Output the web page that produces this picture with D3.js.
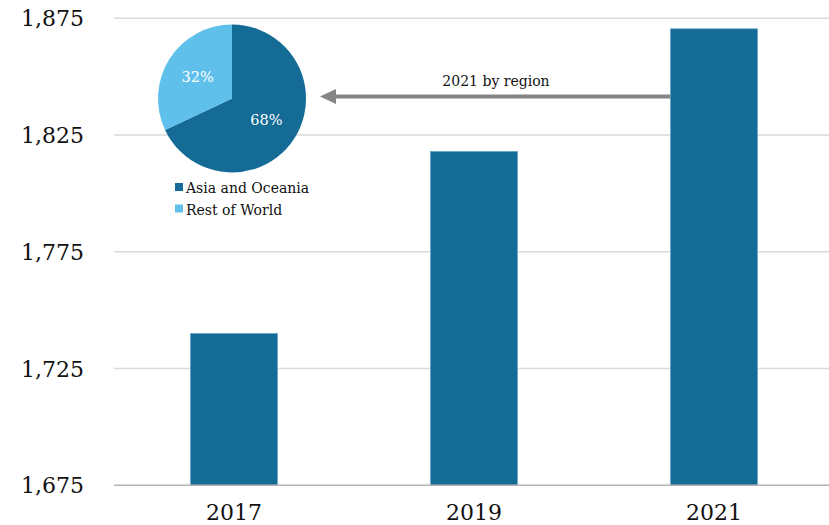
<!DOCTYPE html>
<html>
<head>
<meta charset="utf-8">
<script src="https://cdn.jsdelivr.net/npm/d3@7"></script>
<style>
  body { margin: 0; background: #fff; }
  svg { display: block; font-family: Georgia, "DejaVu Serif", serif; }
</style>
</head>
<body>
<div id="chart"></div>
<script>
'use strict';

// bar data
var years = ['2017', '2019', '2021'];
var values = [1740, 1818, 1870.5];
var yTicks = [1675, 1725, 1775, 1825, 1875];

// pie data (2021 by region)
var regions = ['Asia and Oceania', 'Rest of World'];
var shares = [68, 32];
var arrowLabel = '2021 by region';

var width = 829,
  height = 525,
  dark = '#136b96',
  light = '#5fc0eb';

var svg = d3.select('#chart').append('svg')
  .attr('width', width)
  .attr('height', height);

var x = d3.scaleBand()
  .domain(years)
  .range([114, 834])
  .paddingInner(0.6375)
  .paddingOuter(0.31875);

var y = d3.scaleLinear()
  .domain([1675, 1875])
  .range([485.3, 18.3]);

// gridlines
svg.append('g')
  .selectAll('line')
  .data(yTicks.slice(1))
  .enter().append('line')
  .attr('x1', 114).attr('x2', width)
  .attr('y1', function(d) { return y(d); })
  .attr('y2', function(d) { return y(d); })
  .attr('stroke', '#d9d9d9')
  .attr('stroke-width', 1.5);

// y labels
svg.append('g')
  .selectAll('text')
  .data(yTicks)
  .enter().append('text')
  .attr('x', 84)
  .attr('y', function(d) { return y(d) + 8; })
  .attr('text-anchor', 'end')
  .attr('font-size', 22)
  .attr('fill', '#111')
  .text(function(d) { return d3.format(',')(d); });

// bars
svg.append('g')
  .selectAll('rect')
  .data(values)
  .enter().append('rect')
  .attr('x', function(d, i) { return x(years[i]); })
  .attr('y', function(d) { return y(d); })
  .attr('width', x.bandwidth())
  .attr('height', function(d) { return y(1675) - y(d); })
  .attr('fill', dark)
  .attr('stroke', '#6aa5c4')
  .attr('stroke-width', 0.8);

// baseline
svg.append('line')
  .attr('x1', 114).attr('x2', width)
  .attr('y1', y(1675)).attr('y2', y(1675))
  .attr('stroke', '#b3b3b3')
  .attr('stroke-width', 1.5);

// x labels
svg.append('g')
  .selectAll('text')
  .data(years)
  .enter().append('text')
  .attr('x', function(d) { return x(d) + x.bandwidth() / 2; })
  .attr('y', 520)
  .attr('text-anchor', 'middle')
  .attr('font-size', 22)
  .attr('fill', '#111')
  .text(function(d) { return d; });

// arrow from 2021 bar to pie
var arrowY = 96.5;
svg.append('line')
  .attr('x1', x('2021')).attr('x2', 333)
  .attr('y1', arrowY).attr('y2', arrowY)
  .attr('stroke', '#858585')
  .attr('stroke-width', 4);
svg.append('path')
  .attr('d', 'M320,' + arrowY + 'L336,' + (arrowY - 7.5) + 'L336,' + (arrowY + 7.5) + 'Z')
  .attr('fill', '#858585');
svg.append('text')
  .attr('x', 496)
  .attr('y', 86)
  .attr('text-anchor', 'middle')
  .attr('font-size', 14)
  .attr('fill', '#111')
  .text(arrowLabel);

// pie
var cx = 232, cy = 98.5, r = 74;
var pie = d3.pie().sort(null)(shares);
var arc = d3.arc().innerRadius(0).outerRadius(r);
var labelArc = d3.arc().innerRadius(r * 0.55).outerRadius(r * 0.55);
var pg = svg.append('g').attr('transform', 'translate(' + cx + ',' + cy + ')');
pg.selectAll('path')
  .data(pie)
  .enter().append('path')
  .attr('d', arc)
  .attr('fill', function(d, i) { return i === 0 ? dark : light; });
pg.selectAll('text')
  .data(pie)
  .enter().append('text')
  .attr('transform', function(d) { var c = labelArc.centroid(d); return 'translate(' + c[0] + ',' + (c[1] + 5) + ')'; })
  .attr('text-anchor', 'middle')
  .attr('font-size', 14.5)
  .attr('fill', '#fff')
  .text(function(d) { return d.data + '%'; });

// legend
var lg = svg.append('g');
lg.selectAll('rect')
  .data(regions)
  .enter().append('rect')
  .attr('x', 175)
  .attr('y', function(d, i) { return 183 + i * 21.5; })
  .attr('width', 8).attr('height', 8)
  .attr('fill', function(d, i) { return i === 0 ? dark : light; });
lg.selectAll('text')
  .data(regions)
  .enter().append('text')
  .attr('x', 186)
  .attr('y', function(d, i) { return 193 + i * 21.5; })
  .attr('font-size', 14)
  .attr('fill', '#111')
  .text(function(d) { return d; });
</script>
</body>
</html>
